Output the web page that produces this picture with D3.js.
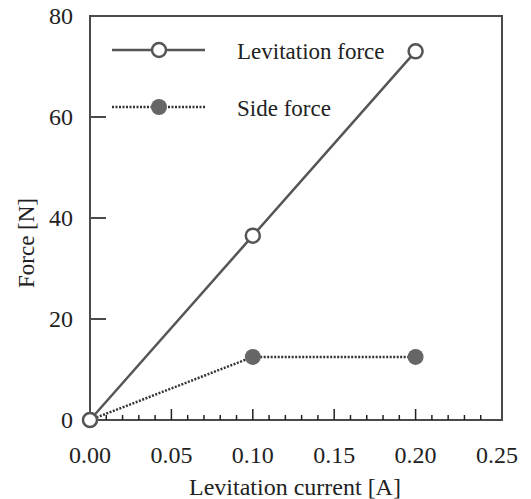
<!DOCTYPE html>
<html>
<head>
<meta charset="utf-8">
<script src="https://cdn.jsdelivr.net/npm/d3@7"></script>
<style>
  body { margin: 0; background: #fff; }
  text { font-family: "Liberation Serif", "DejaVu Serif", serif; fill: #222; }
</style>
</head>
<body>
<div id="chart"></div>
<script>
// data
var current = [0.00, 0.10, 0.20];
var levitationForce = [0, 36.5, 73];
var sideForce = [0, 12.5, 12.5];
var xTicks = [0.00, 0.05, 0.10, 0.15, 0.20, 0.25];
var yTicks = [0, 20, 40, 60, 80];
var legendNames = ["Levitation force", "Side force"];

var w = 531, h = 499;
// plot frame (note: "top" is taken by window.top, so use other names)
var frameL = 90, frameR = 502, frameT = 16, frameB = 420;

var svg = d3.select("#chart").append("svg")
    .attr("width", w)
    .attr("height", h);

var x = d3.scaleLinear().domain([0, 0.25]).range([frameL, 497]);
var y = d3.scaleLinear().domain([0, 80]).range([frameB, frameT]);

var ink = "#4a4a4a";

// frame
svg.append("rect")
    .attr("x", frameL).attr("y", frameT)
    .attr("width", frameR - frameL).attr("height", frameB - frameT)
    .attr("fill", "none")
    .attr("stroke", ink)
    .attr("stroke-width", 2);

// x ticks (inside, up) - minor every 0.01, major every 0.05
var minor = d3.range(1, 25).map(function(i){ return i / 100; });
svg.selectAll("line.xminor")
    .data(minor)
    .enter().append("line")
    .attr("x1", function(d){ return x(d); })
    .attr("x2", function(d){ return x(d); })
    .attr("y1", frameB)
    .attr("y2", function(d, i){ return (i + 1) % 5 == 0 ? frameB - 11 : frameB - 5; })
    .attr("stroke", "#222")
    .attr("stroke-width", 1.5);

svg.selectAll("text.xtick")
    .data(xTicks)
    .enter().append("text")
    .attr("x", function(d){ return x(d); })
    .attr("y", 463)
    .attr("text-anchor", "middle")
    .attr("font-size", "24px")
    .text(function(d){ return d3.format(".2f")(d); });

// y ticks (inside, right)
svg.selectAll("line.ytick")
    .data(yTicks.slice(1, 4))
    .enter().append("line")
    .attr("x1", frameL)
    .attr("x2", frameL + 16)
    .attr("y1", function(d){ return y(d); })
    .attr("y2", function(d){ return y(d); })
    .attr("stroke", ink)
    .attr("stroke-width", 2);

svg.selectAll("text.ytick")
    .data(yTicks)
    .enter().append("text")
    .attr("x", 73)
    .attr("y", function(d){ return y(d) + 8; })
    .attr("text-anchor", "end")
    .attr("font-size", "24px")
    .text(function(d){ return d; });

// axis titles
svg.append("text")
    .attr("x", 295)
    .attr("y", 495)
    .attr("text-anchor", "middle")
    .attr("font-size", "24px")
    .text("Levitation current [A]");

svg.append("text")
    .attr("transform", "translate(34,243) rotate(-90)")
    .attr("text-anchor", "middle")
    .attr("font-size", "23px")
    .text("Force [N]");

var line = d3.line()
    .x(function(d){ return x(d[0]); })
    .y(function(d){ return y(d[1]); });

var levData = current.map(function(c, i){ return [c, levitationForce[i]]; });
var sideData = current.map(function(c, i){ return [c, sideForce[i]]; });

// side force - dotted line, filled markers
svg.append("path")
    .datum(sideData)
    .attr("d", line)
    .attr("fill", "none")
    .attr("stroke", "#333")
    .attr("stroke-width", 2.5)
    .attr("stroke-dasharray", "2,1.5");

svg.selectAll("circle.side")
    .data(sideData)
    .enter().append("circle")
    .attr("cx", function(d){ return x(d[0]); })
    .attr("cy", function(d){ return y(d[1]); })
    .attr("r", 8)
    .attr("fill", "#666");

// levitation force - solid line, open markers
svg.append("path")
    .datum(levData)
    .attr("d", line)
    .attr("fill", "none")
    .attr("stroke", "#555")
    .attr("stroke-width", 2.5);

svg.selectAll("circle.lev")
    .data(levData)
    .enter().append("circle")
    .attr("cx", function(d){ return x(d[0]); })
    .attr("cy", function(d){ return y(d[1]); })
    .attr("r", 7)
    .attr("fill", "#fff")
    .attr("stroke", "#555")
    .attr("stroke-width", 2.5);

// legend
var legY = [50, 107];
legendNames.forEach(function(name, i){
    var g = svg.append("g");
    g.append("line")
        .attr("x1", 112).attr("x2", 205)
        .attr("y1", legY[i]).attr("y2", legY[i])
        .attr("stroke", i == 0 ? "#555" : "#333")
        .attr("stroke-width", 2.5)
        .attr("stroke-dasharray", i == 0 ? null : "2,1.5");
    g.append("circle")
        .attr("cx", 159).attr("cy", legY[i])
        .attr("r", i == 0 ? 7 : 8)
        .attr("fill", i == 0 ? "#fff" : "#666")
        .attr("stroke", i == 0 ? "#555" : "none")
        .attr("stroke-width", 2.5);
    g.append("text")
        .attr("x", 237)
        .attr("y", legY[i] + 9)
        .attr("font-size", "23px")
        .text(name);
});
</script>
</body>
</html>
